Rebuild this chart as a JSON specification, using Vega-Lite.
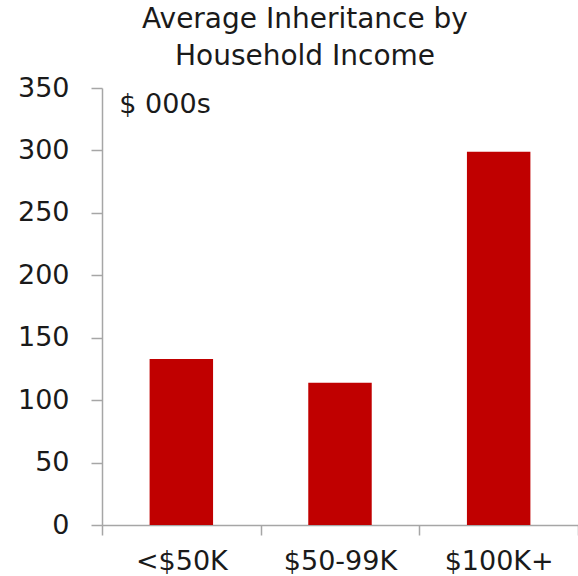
{
  "$schema": "https://vega.github.io/schema/vega-lite/v6.json",
  "autosize": "none",
  "width": 476,
  "height": 437,
  "padding": {"left": 102, "top": 88, "right": 0, "bottom": 51},
  "background": "white",
  "title": {
    "text": ["Average Inheritance by", "Household Income"],
    "font": "DejaVu Sans",
    "fontSize": 28,
    "fontWeight": "normal",
    "color": "#1a1a1a",
    "anchor": "middle",
    "frame": "group",
    "dx": -35,
    "offset": 3,
    "lineHeight": 37
  },
  "data": {
    "values": [
      {"income": "<$50K", "inheritance": 133},
      {"income": "$50-99K", "inheritance": 114},
      {"income": "$100K+", "inheritance": 299}
    ]
  },
  "config": {"view": {"stroke": null}},
  "layer": [
    {
      "mark": {"type": "bar", "color": "#C00000", "width": {"band": 0.4}},
      "encoding": {
        "x": {
          "field": "income",
          "type": "nominal",
          "sort": null,
          "scale": {"paddingInner": 0, "paddingOuter": 0},
          "axis": {
            "title": null,
            "labelAngle": 0,
            "labelFont": "DejaVu Sans",
            "labelFontSize": 27,
            "labelColor": "#1a1a1a",
            "labelPadding": 13,
            "domainColor": "#a6a6a6",
            "domainWidth": 1.5,
            "tickColor": "#a6a6a6",
            "tickWidth": 1.5,
            "tickSize": 10,
            "tickBand": "extent",
            "grid": false
          }
        },
        "y": {
          "field": "inheritance",
          "type": "quantitative",
          "scale": {"domain": [0, 350], "nice": false},
          "axis": {
            "title": null,
            "values": [0, 50, 100, 150, 200, 250, 300, 350],
            "labelFont": "DejaVu Sans",
            "labelFontSize": 27,
            "labelColor": "#1a1a1a",
            "labelPadding": 22,
            "domainColor": "#a6a6a6",
            "domainWidth": 1.5,
            "tickColor": "#a6a6a6",
            "tickWidth": 1.5,
            "tickSize": 11,
            "grid": false
          }
        }
      }
    },
    {
      "data": {"values": [{"label": "$ 000s", "pos": 350, "cat": "<$50K"}]},
      "mark": {"type": "text", "font": "DejaVu Sans", "fontSize": 27, "color": "#1a1a1a", "align": "left", "baseline": "middle", "dx": -62, "dy": 17},
      "encoding": {
        "text": {"field": "label"},
        "x": {"field": "cat", "type": "nominal", "sort": null},
        "y": {"field": "pos", "type": "quantitative"}
      }
    }
  ]
}
